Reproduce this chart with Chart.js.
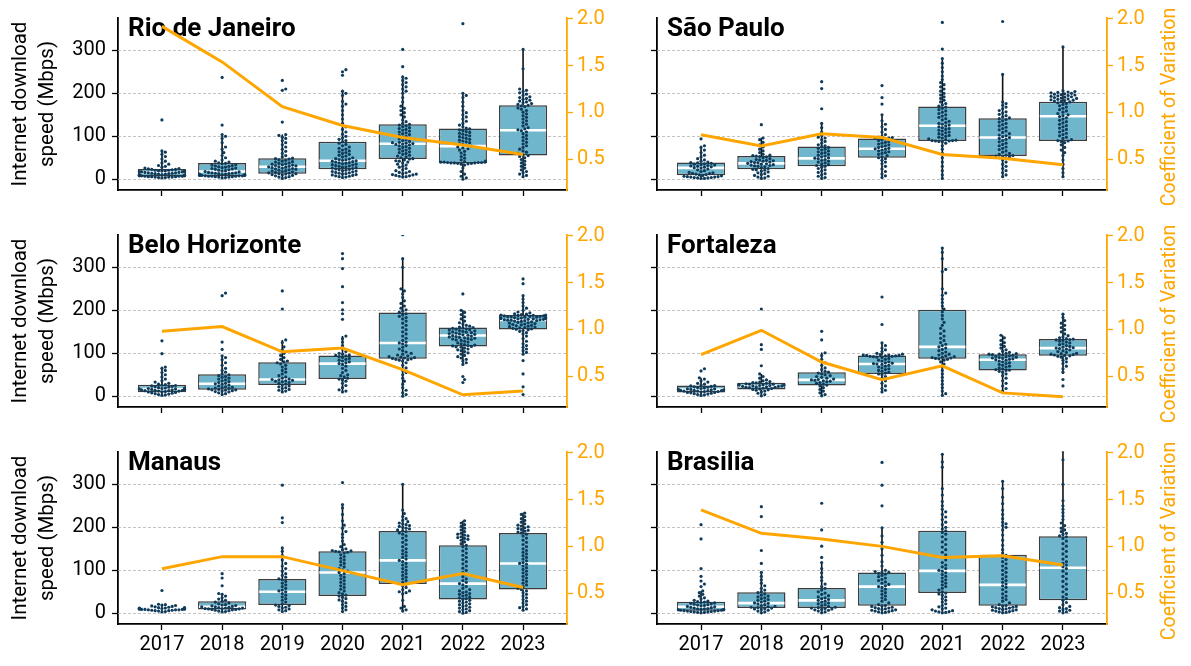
<!DOCTYPE html>
<html>
<head>
<meta charset="utf-8">
<script src="https://cdn.jsdelivr.net/npm/chart.js@4/dist/chart.umd.min.js"></script>
<style>
  body { margin: 0; background: #fff; }
  #wrap { position: relative; width: 1191px; height: 666px; }
  canvas { position: absolute; }
</style>
</head>
<body>
<div id="wrap"></div>
<script>
const years = ['2017', '2018', '2019', '2020', '2021', '2022', '2023'];

// box stats per year: [whisker low, q1, median, q3, whisker high]
const rioBox = [[3,6.6,15.5,24,67],[3,7,18,37.6,104],[2,13,29,48.6,104],[4,23,43,87,205],[5,47,82.5,128,238],[0,37,77,118,200],[6,55,114,172,302]];
const spBox  = [[2,9.6,26.5,39,78],[2,23,37,54,96.5],[2,30,48.6,76,130],[4,50,71,95,150],[2,89,124.5,169,281],[6,54,97,142,244],[6,89,146.6,180.5,308]];
const bhBox  = [[2,9.6,17,27,68.5],[4,15,29,51,94],[10,26,39,79,131],[10,40,76,95,140],[0,87,124,195,320],[74,116,141.5,160,200],[98,155.5,177.6,189,234]];
const forBox = [[2,9,15.5,25,43],[1,16,24,31.7,52],[1,25,38,56,101.7],[10,51.6,75,95,124],[2,87,115,201,345],[12,60,85,98,142],[52,94,112,133,191.6]];
const manBox = [[3,8,10,13,21],[3,9,15,28,46],[4,19,50,79.6,152.5],[4,40,95,144,253.5],[5,68,123,191.6,300],[0,32,69,158,215],[7,55,115.7,187,233.6]];
const bsbBox = [[1,6,15,26.5,51.6],[1.5,12.5,23.6,49,95.5],[1,12.5,30,59,118],[1,17.7,62,95,199],[1,47,98.7,192,370],[1,17.7,66,136,307],[1,30,106,179,377]];

// coefficient of variation per year
const rioCv = [1.92, 1.54, 1.06, 0.86, 0.73, 0.65, 0.55];
const spCv  = [0.76, 0.64, 0.77, 0.73, 0.55, 0.51, 0.44];
const bhCv  = [0.98, 1.03, 0.76, 0.80, 0.57, 0.30, 0.34];
const forCv = [0.73, 0.99, 0.65, 0.46, 0.61, 0.32, 0.28];
const manCv = [0.76, 0.89, 0.89, 0.74, 0.59, 0.71, 0.56];
const bsbCv = [1.39, 1.14, 1.08, 1.00, 0.88, 0.90, 0.80];

// individual download speeds (Mbps) per year
const rioSpeeds = [
  [3,4,4,5,5,5,6,6,6,7,7,7,8,8,8,9,9,9,10,10,11,11,12,12,13,13,14,14,15,15,16,16,17,17,18,18,19,19,20,20,21,21,22,23,23,24,25,26,28,30,32,35,38,42,47,53,58,63,66,138],
  [3,4,5,5,6,6,7,7,7,8,8,8,9,9,9,10,10,11,11,12,12,13,13,14,14,15,15,16,17,18,19,20,21,22,23,24,25,26,27,28,29,30,31,32,33,34,36,37,38,40,42,45,50,55,62,70,75,85,95,100,104,126,237],
  [2,4,5,6,8,9,10,11,12,13,13,14,15,16,17,18,19,20,21,22,23,24,25,26,27,28,29,29,30,31,32,33,34,35,36,37,38,40,41,42,44,45,47,48,49,52,55,60,65,70,75,80,85,90,95,98,102,104,133,207,210,230],
  [4,5,6,7,8,9,10,11,12,13,14,15,16,17,18,19,20,21,22,23,24,25,26,27,28,29,30,31,32,33,34,35,36,37,38,39,40,41,42,43,44,45,46,47,48,50,52,54,56,58,60,62,64,66,68,70,72,75,78,81,84,87,90,93,96,100,105,110,116,122,130,140,150,160,170,175,181,195,200,205,242,250,255],
  [5,6,7,8,9,10,11,12,13,15,16,18,20,22,25,28,30,33,35,38,40,42,43,45,47,48,50,52,54,56,58,60,62,64,66,68,70,72,74,76,78,80,81,82,83,84,85,86,88,90,92,94,96,98,100,102,104,106,108,110,112,114,116,118,120,122,124,126,128,130,134,138,145,150,155,160,165,170,180,190,200,205,210,215,220,225,230,235,238,262,302],
  [0,3,7,12,18,26,33,35,36,37,37,38,38,38,39,39,39,40,40,40,41,42,45,49,53,57,61,65,68,71,73,75,77,79,81,83,85,87,89,91,93,95,97,99,101,103,105,107,109,111,113,115,117,119,122,126,130,135,140,145,150,155,160,170,180,190,195,200,362],
  [6,9,12,15,18,22,26,30,34,38,42,46,50,53,55,57,60,63,66,70,74,78,82,86,90,94,98,102,106,110,113,115,117,120,124,128,132,136,140,144,148,152,156,160,163,166,169,171,172,174,176,178,180,182,184,186,188,190,192,195,198,201,204,207,210,257,302]
];
const spSpeeds = [
  [2,2,3,3,4,4,5,5,6,6,7,8,9,10,11,12,13,14,15,16,18,20,22,24,26,27,28,29,30,31,32,33,34,35,36,37,38,39,40,42,45,48,52,56,62,68,74,78,94],
  [2,3,5,7,9,11,13,15,17,19,21,22,23,25,27,29,30,31,32,33,34,35,36,37,38,39,40,41,42,43,44,45,46,48,50,52,53,54,55,56,58,62,66,70,75,80,86,92,96,127],
  [2,4,7,10,13,16,19,22,25,28,30,32,34,36,38,40,42,44,46,48,49,50,52,54,56,58,60,62,64,66,68,70,72,74,76,78,80,84,88,92,96,98,102,110,120,130,164,211,227],
  [4,8,12,18,24,30,36,40,44,48,50,52,55,58,60,62,64,66,68,70,71,72,74,76,78,80,82,84,86,88,90,92,94,95,96,97,98,100,104,110,116,122,128,136,150,175,190,218],
  [2,10,20,30,40,50,60,70,78,84,87,88,89,89,90,90,91,92,94,96,98,100,102,104,106,108,110,112,114,116,118,120,122,124,126,128,130,132,135,138,141,144,147,150,153,156,159,162,165,168,170,173,176,180,184,188,192,196,200,205,210,215,220,225,232,240,250,260,270,281,303,365],
  [6,10,15,20,25,30,35,40,45,48,50,52,53,54,55,56,58,60,63,66,69,72,75,78,81,84,87,90,93,95,97,99,101,103,106,109,112,115,118,121,124,127,130,133,136,139,141,143,145,148,151,154,157,160,164,168,172,176,180,244,367],
  [6,15,25,35,45,55,62,68,74,80,85,88,89,90,92,95,98,101,104,107,110,113,116,119,122,125,128,131,134,137,140,143,146,148,150,153,156,159,162,165,168,171,174,176,178,180,181,182,183,184,185,186,187,188,189,190,191,192,193,194,195,196,197,198,199,200,201,202,203,204,206,308]
];
const bhSpeeds = [
  [2,3,4,5,6,7,8,9,10,10,11,12,12,13,13,14,14,15,15,16,16,17,17,18,18,19,19,20,21,22,23,24,25,26,27,28,30,33,36,40,45,50,55,60,65,68,99,129],
  [4,6,8,10,11,12,13,14,15,15,16,17,18,19,20,21,22,24,26,28,29,30,32,34,36,38,40,42,44,46,48,50,52,56,60,65,72,78,85,90,94,109,126,234,240],
  [10,12,14,16,18,20,22,24,26,28,30,32,34,35,36,37,38,39,40,42,45,48,52,56,60,64,68,72,75,78,80,82,86,90,95,100,108,115,125,131,203,245],
  [10,12,15,20,25,30,35,38,40,42,45,48,50,55,60,65,70,74,76,78,80,82,84,86,88,90,92,94,95,96,98,100,104,110,118,126,134,140,179,192,201,218,255,297,320,332],
  [0,4,8,14,20,28,35,42,50,55,60,66,72,78,82,84,85,86,87,88,89,90,91,92,94,96,98,100,103,106,110,114,118,122,124,126,130,135,140,145,150,155,160,165,170,175,180,183,186,189,192,195,198,201,205,210,216,222,230,238,245,250,300,320,376],
  [32,39,46,74,78,82,86,89,92,95,98,101,104,106,108,110,112,114,115,116,117,118,119,120,122,124,126,128,130,131,132,133,134,135,136,137,138,139,140,141,142,143,144,145,146,147,148,149,150,151,152,153,154,155,156,157,158,159,160,161,163,165,168,171,175,180,185,190,195,200,238],
  [4,22,52,83,98,102,106,110,114,118,122,128,134,140,145,148,151,153,155,156,157,158,159,160,161,162,163,164,165,166,167,168,169,170,171,172,173,174,175,176,176,177,177,178,178,179,179,180,180,181,181,182,182,183,183,184,184,185,185,186,186,187,187,188,188,189,189,190,191,192,194,196,200,205,210,218,226,234,262,273]
];
const forSpeeds = [
  [2,3,4,5,6,7,8,9,9,10,11,11,12,12,13,13,14,14,15,15,16,16,17,17,18,19,20,21,22,23,24,25,26,28,30,33,36,40,43,59,64],
  [1,4,7,10,12,14,15,16,17,18,19,20,21,21,22,22,23,23,24,24,25,25,26,26,27,27,28,28,29,30,31,32,33,34,36,38,42,46,52,71,109,120,203],
  [1,4,8,12,16,20,24,26,28,30,32,34,35,36,37,38,39,40,42,44,46,48,50,52,54,56,58,62,66,72,78,86,95,101,131,151],
  [10,14,18,24,30,36,42,46,50,52,54,56,58,60,62,64,66,68,70,72,74,75,76,77,78,80,82,84,86,88,90,91,92,93,93,94,94,95,95,96,96,97,98,100,104,108,112,118,124,167,231],
  [2,6,12,20,28,36,44,52,60,68,75,80,84,86,87,88,89,90,91,92,94,96,98,100,103,106,109,112,115,118,121,125,130,135,140,146,152,158,165,172,180,188,196,203,210,218,226,235,240,250,290,295,320,335,345],
  [12,18,24,30,36,42,48,52,56,58,60,61,62,64,66,68,70,72,74,76,78,80,82,84,85,86,87,88,89,90,91,92,93,94,95,96,97,98,98,99,100,102,105,108,112,116,120,125,130,136,142],
  [24,39,56,64,70,76,80,84,88,91,93,94,95,96,97,98,99,100,102,104,106,108,110,111,112,113,114,116,118,120,122,124,126,128,130,131,132,133,134,136,138,141,145,150,155,160,165,170,176,183,191]
];
const manSpeeds = [
  [3,4,5,6,6,7,7,8,8,8,9,9,9,10,10,10,10,11,11,11,12,12,12,13,13,14,15,16,17,18,19,20,21,53],
  [3,4,5,6,7,8,9,9,10,10,11,11,12,12,13,14,15,15,16,17,18,19,20,22,24,26,28,30,33,36,40,44,46,64,82,92],
  [4,6,8,10,12,14,16,18,19,22,26,30,34,38,42,46,50,52,54,58,62,66,70,74,78,80,84,88,92,98,104,110,116,124,134,144,152,211,222,298],
  [4,8,12,16,20,24,28,31,34,37,40,42,45,48,52,56,60,64,68,72,76,80,84,88,92,95,98,101,104,108,112,116,120,124,128,132,136,140,142,143,144,145,146,148,150,155,160,168,176,184,190,198,205,215,230,245,253,304],
  [5,8,12,16,30,45,48,50,52,55,60,64,68,72,76,80,84,88,92,96,100,104,108,112,116,120,123,126,130,134,138,142,146,150,155,160,165,170,175,180,184,187,190,192,194,196,198,200,202,204,206,208,210,213,216,220,225,232,240,300],
  [0,2,4,6,8,10,12,14,16,18,20,22,24,26,28,30,32,34,36,38,40,42,44,46,48,50,52,55,58,62,66,69,72,76,80,85,90,95,100,105,110,115,120,125,130,135,140,145,150,155,158,162,166,170,172,174,176,178,180,182,184,186,190,194,198,202,206,210,215],
  [7,10,13,16,20,24,28,32,36,40,44,48,52,55,58,62,66,70,74,78,82,86,90,94,98,102,106,110,114,116,118,122,126,130,134,138,142,146,150,155,160,165,170,175,180,184,187,189,191,193,195,197,199,201,203,205,208,212,216,220,225,230,233]
];
const bsbSpeeds = [
  [1,2,2,3,3,4,4,5,5,6,6,7,7,8,8,9,9,10,10,11,12,13,14,15,16,17,18,19,20,21,22,23,24,25,26,27,28,30,33,36,40,44,48,52,62,68,75,86,104,173,206],
  [1,3,5,7,9,10,11,12,13,14,15,16,18,20,22,23,24,26,28,30,32,34,36,38,40,42,45,48,50,54,58,64,70,78,86,95,116,146,225,248],
  [1,3,5,7,8,9,10,11,12,13,14,16,18,20,22,24,26,28,30,32,34,36,38,41,44,47,50,54,58,62,68,76,84,94,104,118,130,156,194,256],
  [1,2,3,4,5,6,7,8,9,10,11,12,13,14,16,17,18,20,24,28,32,36,40,44,48,52,56,60,62,64,67,70,73,76,79,82,85,88,91,93,95,96,97,100,110,120,135,150,165,180,199,250,298,351],
  [1,2,3,4,5,6,8,10,12,15,18,22,26,30,34,38,42,45,47,50,54,58,62,66,70,74,78,82,86,90,94,98,100,104,108,112,118,124,130,136,142,148,154,160,166,172,178,184,188,192,196,200,206,212,218,224,230,236,242,250,260,275,290,340,352,370],
  [1,2,3,4,5,6,7,8,9,10,11,12,13,14,15,16,17,18,20,24,28,32,36,40,45,50,55,60,64,68,72,76,80,85,90,95,100,105,110,115,120,125,130,135,140,148,158,170,182,194,200,204,208,212,220,230,240,255,270,290,307],
  [1,3,5,7,9,11,13,16,20,25,30,34,38,44,50,56,62,68,74,80,86,92,98,104,108,112,116,120,126,132,138,144,150,156,162,168,174,178,180,183,186,190,194,198,204,210,218,226,234,242,250,262,300,357,377]
];

const ORANGE = '#ffa500';
const BOX_FILL = '#6fb6cc';
const BOX_EDGE = '#3c3c3c';
const DOT_COLOR = '#0f3b5b';
const FONT = 'Roboto';

const Y_MIN = -25, Y_MAX = 375.2;
const CV_MIN = 0.169, CV_MAX = 2.01;
const X_MIN = -0.73, X_MAX = 6.73;
const AREA_W = 449, AREA_H = 181;
const PX_X = AREA_W / (X_MAX - X_MIN);
const PX_Y = AREA_H / (Y_MAX - Y_MIN);
const DOT = 3.4;
const SWARM_HALF = 0.4 * PX_X - 1.5;

// simple beeswarm: nearest free horizontal slot, points past the box edge sit on the edge
function swarm(values, center) {
  const placed = [];
  const out = [];
  values.slice().sort((a, b) => a - b).forEach(v => {
    const py = v * PX_Y;
    let dx = 0;
    for (let k = 0; k < 60; k++) {
      const cands = k === 0 ? [0] : [k * DOT / 2, -k * DOT / 2];
      const hit = cands.find(cx => placed.every(p => (p.x - cx) ** 2 + (p.y - py) ** 2 >= DOT * DOT * 0.98));
      if (hit !== undefined) { dx = hit; break; }
    }
    placed.push({x: dx, y: py});
    const shown = Math.max(-SWARM_HALF, Math.min(SWARM_HALF, dx));
    out.push({x: center + shown / PX_X, y: v});
  });
  return out;
}

const panelPlugin = {
  id: 'panel',
  beforeDatasetsDraw(chart, args, opts) {
    const {ctx, chartArea, scales} = chart;
    ctx.save();
    ctx.strokeStyle = '#b4b4b4';
    ctx.lineWidth = 0.8;
    ctx.setLineDash([3, 2]);
    scales.y.ticks.forEach(t => {
      const py = Math.round(scales.y.getPixelForValue(t.value)) + 0.5;
      ctx.beginPath();
      ctx.moveTo(chartArea.left, py);
      ctx.lineTo(chartArea.right, py);
      ctx.stroke();
    });
    ctx.setLineDash([]);
    ctx.fillStyle = '#000';
    ctx.font = 'bold 26px ' + FONT;
    ctx.textBaseline = 'alphabetic';
    ctx.textAlign = 'left';
    ctx.fillText(opts.title, chartArea.left + 10, chartArea.top + 18);
    ctx.restore();
  },
  afterDatasetDraw(chart, args, opts) {
    if (args.index !== 0) return;
    const {ctx, scales} = chart;
    const bars = chart.getDatasetMeta(0).data;
    ctx.save();
    opts.box.forEach((b, i) => {
      const bar = bars[i];
      const x = bar.x;
      ctx.strokeStyle = '#111';
      ctx.lineWidth = 1.6;
      ctx.beginPath();
      ctx.moveTo(x, scales.y.getPixelForValue(b[0]));
      ctx.lineTo(x, scales.y.getPixelForValue(b[1]));
      ctx.moveTo(x, scales.y.getPixelForValue(b[3]));
      ctx.lineTo(x, scales.y.getPixelForValue(b[4]));
      ctx.stroke();
      ctx.strokeStyle = '#fff';
      ctx.lineWidth = 2.6;
      const my = scales.y.getPixelForValue(b[2]);
      ctx.beginPath();
      ctx.moveTo(x - bar.width / 2 + 1, my);
      ctx.lineTo(x + bar.width / 2 - 1, my);
      ctx.stroke();
    });
    ctx.restore();
  },
  afterDraw(chart, args, opts) {
    if (!opts.rightTitle) return;
    const {ctx, chartArea} = chart;
    ctx.save();
    ctx.translate(chart.width - 21, (chartArea.top + chartArea.bottom) / 2 + 3);
    ctx.rotate(-Math.PI / 2);
    ctx.fillStyle = ORANGE;
    ctx.font = '19.5px ' + FONT;
    ctx.textAlign = 'center';
    ctx.textBaseline = 'middle';
    ctx.fillText('Coefficient of Variation', 0, 0);
    ctx.restore();
  }
};

const panels = [
  {title: 'Rio de Janeiro', box: rioBox, cv: rioCv, speeds: rioSpeeds, col: 0, row: 0},
  {title: 'São Paulo', box: spBox, cv: spCv, speeds: spSpeeds, col: 1, row: 0},
  {title: 'Belo Horizonte', box: bhBox, cv: bhCv, speeds: bhSpeeds, col: 0, row: 1},
  {title: 'Fortaleza', box: forBox, cv: forCv, speeds: forSpeeds, col: 1, row: 1},
  {title: 'Manaus', box: manBox, cv: manCv, speeds: manSpeeds, col: 0, row: 2},
  {title: 'Brasilia', box: bsbBox, cv: bsbCv, speeds: bsbSpeeds, col: 1, row: 2}
];

const wrap = document.getElementById('wrap');

function makePanel(p) {
  const isLeft = p.col === 0;
  const isBottom = p.row === 2;
  const left = isLeft ? 0 : 612;
  const width = isLeft ? 612 : 579;
  const top = p.row * 217;
  const height = isBottom ? 232 : 217;
  const yW = isLeft ? 118 : 45;
  const y1W = isLeft ? 45 : 84;
  const xH = height - 9 - AREA_H;

  const canvas = document.createElement('canvas');
  canvas.width = width;
  canvas.height = height;
  canvas.style.left = left + 'px';
  canvas.style.top = top + 'px';
  wrap.appendChild(canvas);

  const tickFont = {family: FONT, size: 20};

  new Chart(canvas, {
    type: 'bar',
    data: {
      datasets: [
        {
          type: 'bar',
          data: p.box.map((b, i) => ({x: i, y: [b[1], b[3]]})),
          backgroundColor: BOX_FILL,
          borderColor: BOX_EDGE,
          borderWidth: 1.5,
          borderSkipped: false,
          barPercentage: 0.8,
          categoryPercentage: 1,
          order: 3
        },
        {
          type: 'scatter',
          data: p.speeds.flatMap((vals, i) => swarm(vals, i)),
          pointRadius: 1.6,
          pointBackgroundColor: DOT_COLOR,
          pointBorderWidth: 0,
          order: 2
        },
        {
          type: 'line',
          yAxisID: 'y1',
          data: p.cv.map((v, i) => ({x: i, y: v})),
          borderColor: ORANGE,
          borderWidth: 3,
          pointRadius: 0,
          tension: 0,
          order: 1
        }
      ]
    },
    options: {
      responsive: false,
      devicePixelRatio: 1,
      animation: false,
      events: [],
      layout: {padding: {top: 9, left: 0, right: 0, bottom: 0}},
      plugins: {
        legend: {display: false},
        tooltip: {enabled: false},
        panel: {title: p.title, box: p.box, rightTitle: !isLeft}
      },
      scales: {
        x: {
          type: 'linear',
          min: X_MIN,
          max: X_MAX,
          offset: false,
          afterBuildTicks: s => { s.ticks = years.map((y, i) => ({value: i})); },
          ticks: {
            autoSkip: false,
            maxRotation: 0,
            padding: 3,
            color: '#000',
            font: tickFont,
            callback: v => isBottom ? years[v] : ''
          },
          grid: {offset: false, drawOnChartArea: false, tickLength: 6, tickColor: '#000', tickWidth: 1.3},
          border: {color: '#000', width: 1.8},
          afterFit: s => { s.height = xH; }
        },
        y: {
          type: 'linear',
          position: 'left',
          min: Y_MIN,
          max: Y_MAX,
          afterBuildTicks: s => { s.ticks = [0, 100, 200, 300].map(v => ({value: v})); },
          ticks: {
            padding: 6,
            color: '#000',
            font: tickFont,
            callback: v => isLeft ? String(v) : ''
          },
          grid: {drawOnChartArea: false, tickLength: 6, tickColor: '#000', tickWidth: 1.3},
          border: {color: '#000', width: 1.8},
          title: {
            display: isLeft,
            text: ['Internet download', 'speed (Mbps)'],
            color: '#000',
            font: {family: FONT, size: 20.5, lineHeight: 1.3},
            padding: {top: 8, bottom: 0}
          },
          afterFit: s => { s.width = yW; }
        },
        y1: {
          type: 'linear',
          position: 'right',
          min: CV_MIN,
          max: CV_MAX,
          afterBuildTicks: s => { s.ticks = [0.5, 1.0, 1.5, 2.0].map(v => ({value: v})); },
          ticks: {
            padding: 4,
            color: ORANGE,
            font: tickFont,
            callback: v => v.toFixed(1)
          },
          grid: {drawOnChartArea: false, tickLength: 6, tickColor: ORANGE, tickWidth: 1.3},
          border: {color: ORANGE, width: 1.8},
          afterFit: s => { s.width = y1W; }
        }
      }
    },
    plugins: [panelPlugin]
  });
}

panels.forEach(makePanel);
</script>
</body>
</html>
